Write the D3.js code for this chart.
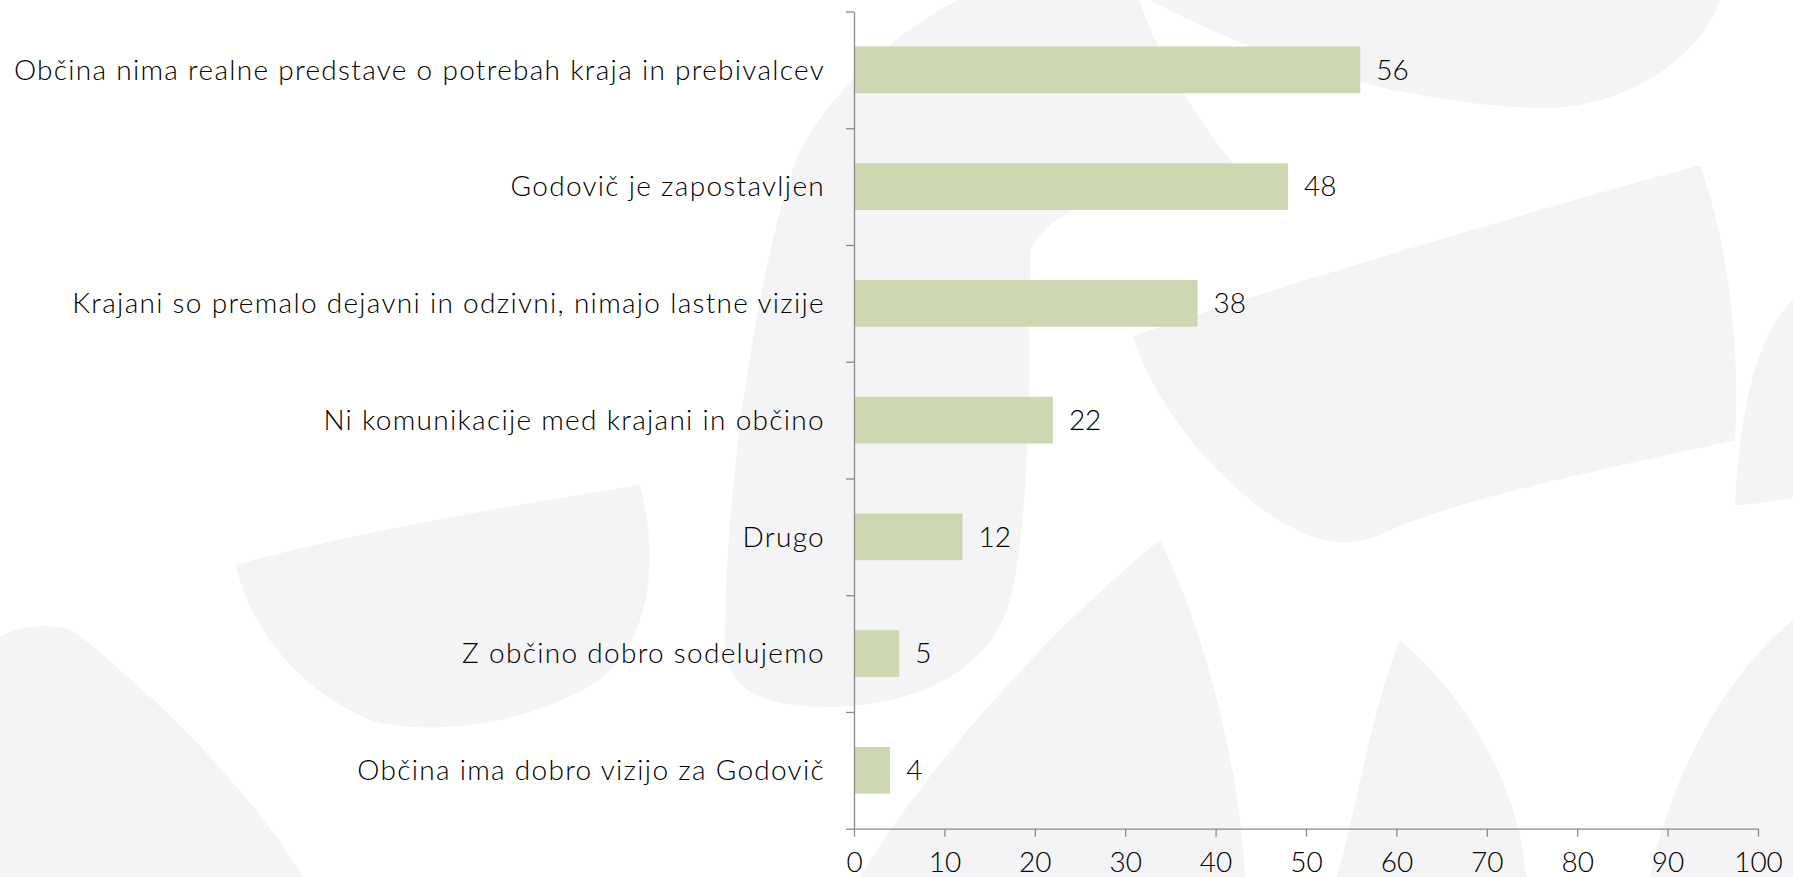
<!DOCTYPE html>
<html>
<head>
<meta charset="utf-8">
<script src="https://cdn.jsdelivr.net/npm/d3@7"></script>
<style>
  html, body { margin: 0; padding: 0; background: #ffffff; }
  svg { display: block; }
  text { font-family: Lato, "Open Sans", sans-serif; font-weight: 300; fill: #000000; }
</style>
</head>
<body>
<svg id="chart" width="1793" height="877"></svg>
<script>
// Survey answers, top to bottom
const categories = [
  "Občina nima realne predstave o potrebah kraja in prebivalcev",
  "Godovič je zapostavljen",
  "Krajani so premalo dejavni in odzivni, nimajo lastne vizije",
  "Ni komunikacije med krajani in občino",
  "Drugo",
  "Z občino dobro sodelujemo",
  "Občina ima dobro vizijo za Godovič"
];
const values = [56, 48, 38, 22, 12, 5, 4];
const xTicks = [0, 10, 20, 30, 40, 50, 60, 70, 80, 90, 100];

// Soft leaf shapes of the slide background
const backdropShapes = [
  "M958,0 L1139,0 C1160,60 1200,130 1265,200 C1150,175 1060,195 1030,250 C1030,380 1030,520 1010,600 C990,670 920,705 830,707 C760,707 725,690 725,640 C725,480 760,250 800,150 C840,80 900,30 958,0 Z",
  "M1150,0 L1720,0 C1700,60 1620,110 1540,108 C1440,105 1300,80 1150,0 Z",
  "M1133,336 C1300,280 1500,220 1700,165 C1730,250 1740,350 1735,440 C1600,470 1450,500 1380,535 C1330,555 1290,530 1250,500 C1190,450 1150,390 1133,336 Z",
  "M1793,300 C1760,330 1740,400 1735,505 C1755,505 1775,500 1793,498 Z",
  "M236,565 C360,530 520,505 640,485 C660,560 650,640 600,680 C520,730 420,735 370,720 C300,690 250,630 236,565 Z",
  "M0,637 C20,625 55,622 75,632 C160,700 250,790 303,877 L0,877 Z",
  "M1160,540 C1200,620 1240,760 1245,877 L860,877 C930,760 1060,620 1160,540 Z",
  "M1400,640 C1470,700 1520,790 1526,877 L1337,877 C1360,790 1375,700 1400,640 Z",
  "M1793,620 C1720,680 1670,780 1650,877 L1793,877 Z"
];

const svg = d3.select("#chart");

svg.append("g").attr("class", "backdrop")
  .selectAll("path")
  .data(backdropShapes)
  .join("path")
  .attr("d", d => d)
  .attr("fill", "#f4f4f6");

const plot = { left: 854, right: 1758, top: 11.5, bottom: 828.7 };
const axisColor = "#8a8a8a";
const fontSize = 28;
const tracking = "1.3px";

const x = d3.scaleLinear().domain([0, 100]).range([plot.left, plot.right]);
const y = d3.scaleBand()
  .domain(categories)
  .range([plot.top, plot.bottom])
  .paddingInner(0.6)
  .paddingOuter(0.3);
// boundaries between categories, for the category-axis ticks
const yEdge = d3.scaleLinear().domain([0, categories.length]).range([plot.top, plot.bottom]);

// bars
svg.append("g").attr("class", "bars")
  .selectAll("rect")
  .data(values)
  .join("rect")
  .attr("x", x(0))
  .attr("y", (d, i) => y(categories[i]))
  .attr("width", d => x(d) - x(0))
  .attr("height", y.bandwidth())
  .attr("fill", "#cdd7b2");

// value labels
svg.append("g").attr("class", "values")
  .selectAll("text")
  .data(values)
  .join("text")
  .attr("x", d => x(d) + 16)
  .attr("y", (d, i) => y(categories[i]) + y.bandwidth() / 2)
  .attr("dy", "0.35em")
  .attr("font-size", fontSize)
  .text(d => d);

// category axis
const yAxis = svg.append("g")
  .attr("transform", `translate(${plot.left},0)`)
  .call(d3.axisLeft(yEdge)
    .tickValues(d3.range(categories.length + 1))
    .tickSize(8)
    .tickSizeOuter(0)
    .tickFormat(""));
yAxis.selectAll("path, line").attr("stroke", axisColor).attr("stroke-width", 1.3);

svg.append("g").attr("class", "categories")
  .selectAll("text")
  .data(categories)
  .join("text")
  .attr("x", plot.left - 29)
  .attr("y", d => y(d) + y.bandwidth() / 2)
  .attr("dy", "0.35em")
  .attr("text-anchor", "end")
  .attr("font-size", fontSize)
  .attr("letter-spacing", tracking)
  .text(d => d);

// value axis
const xAxis = svg.append("g")
  .attr("transform", `translate(0,${plot.bottom})`)
  .call(d3.axisBottom(x)
    .tickValues(xTicks)
    .tickSize(8)
    .tickSizeOuter(0)
    .tickPadding(15)
    .tickFormat(d3.format("d")));
xAxis.selectAll("path, line").attr("stroke", axisColor).attr("stroke-width", 1.3);
xAxis.selectAll("text")
  .attr("font-size", fontSize)
  .attr("font-family", "Lato, 'Open Sans', sans-serif")
  .attr("font-weight", 300)
  .attr("fill", "#000000");
</script>
</body>
</html>
